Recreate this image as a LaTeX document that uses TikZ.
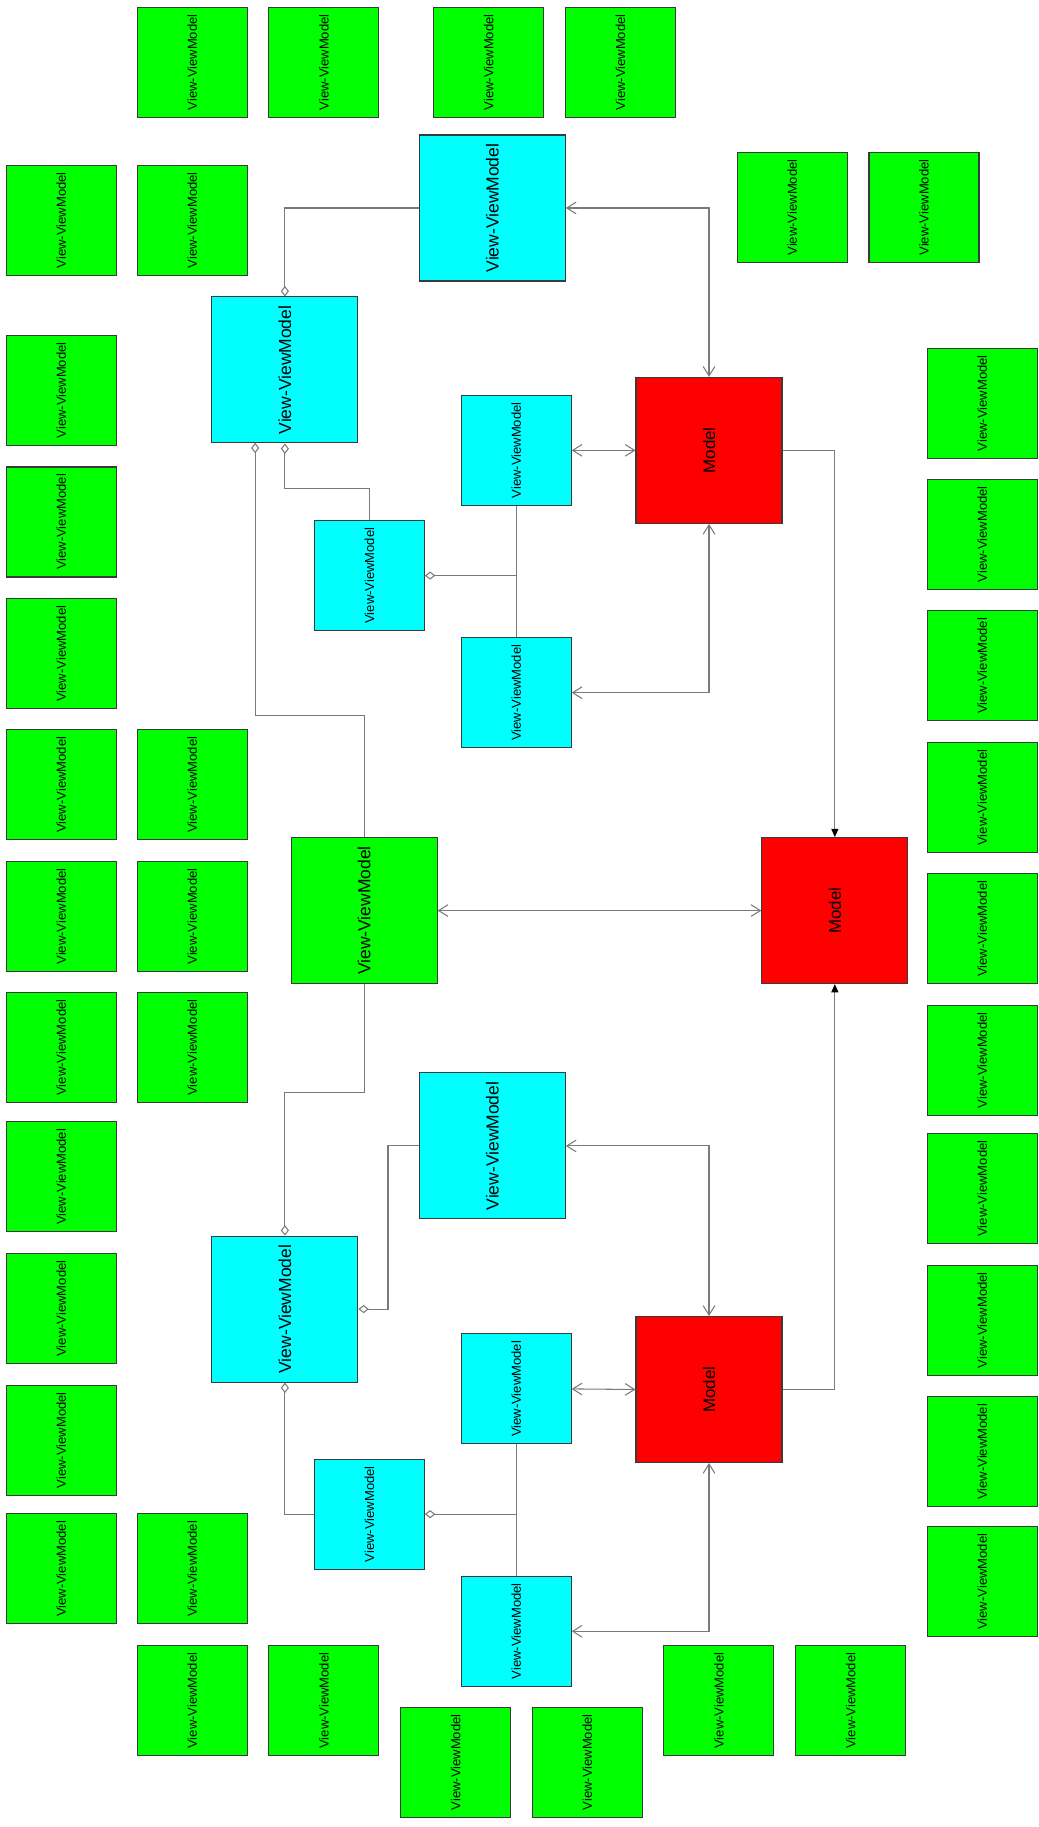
\documentclass[tikz,border=0pt]{standalone}
\usepackage{fontspec}
\setmainfont{Liberation Sans}
\usetikzlibrary{arrows.meta}
\definecolor{gfill}{HTML}{00FF00}
\definecolor{cfill}{HTML}{00FFFF}
\definecolor{rfill}{HTML}{FF0000}
\definecolor{bordc}{HTML}{3A3A3A}
\definecolor{linec}{HTML}{7A7A7A}
\newcommand\vtext[1]{\rotatebox{90}{#1}}
\tikzset{
  boxbase/.style={draw=bordc, line width=0.9pt, inner sep=0pt, align=center},
  sbox/.style={boxbase, minimum width=94.4pt, minimum height=94.4pt, font=\fontsize{11.2}{13}\selectfont},
  bbox/.style={boxbase, minimum width=125.3pt, minimum height=125.3pt, font=\fontsize{15}{17}\selectfont},
  gsm/.style={sbox, fill=gfill},
  csm/.style={sbox, fill=cfill},
  cbig/.style={bbox, fill=cfill},
  gbig/.style={bbox, fill=gfill},
  model/.style={bbox, fill=rfill, font=\fontsize{14.5}{17}\selectfont},
  conn/.style={draw=linec, line width=0.9pt},
  nav/.style={conn, {Straight Barb[length=8pt,width=10pt,line width=0.9pt]}-{Straight Barb[length=8pt,width=10pt,line width=0.9pt]}},
  agg/.style={conn, {Diamond[open,length=9pt,width=7pt,fill=white,line width=0.9pt]}-},
  dep/.style={conn, -{Triangle[length=7pt,width=6pt,fill=black,color=black]}}
}
\begin{document}
\begin{tikzpicture}[x=1pt,y=-1pt]
\useasboundingbox[fill=white] (0,0) rectangle (891,1568);

% ---------- green filler boxes ----------
\foreach \nm/\xx/\yy in {t1/165/53.5, t2/278/53.5, t3/419.5/53.5, t4/532.5/53.5,
  rt1/680/178, rt2/793/178,
  a1/52.5/189, a2/52.5/335, a3/52.5/448, a4/52.5/561, a5/52.5/673.5, a6/52.5/786.5,
  a7/52.5/899, a8/52.5/1010, a9/52.5/1123, a10/52.5/1236, a11/52.5/1346.5,
  b1/165/189, b2/165/673.5, b3/165/786.5, b4/165/899, b5/165/1346.5,
  r1/843/346, r2/843/458.5, r3/843/571.5, r4/843/684.5, r5/843/797,
  r6/843/910, r7/843/1020, r8/843/1133, r9/843/1246, r10/843/1357.5,
  u1/165/1459.5, u2/278/1459.5, u3/391/1512.5, u4/504/1512.5, u5/617/1459.5, u6/730/1459.5}
  \node[gsm] (\nm) at (\xx,\yy) {\vtext{View-ViewModel}};

% ---------- upper cluster ----------
\node[cbig] (ctop) at (422.5,178.5) {\vtext{View-ViewModel}};
\node[cbig] (cul)  at (244.5,317.5) {\vtext{View-ViewModel}};
\node[csm]  (s1)   at (443,386.5)   {\vtext{View-ViewModel}};
\node[csm]  (s2)   at (317,494)     {\vtext{View-ViewModel}};
\node[csm]  (s3)   at (443,594.5)   {\vtext{View-ViewModel}};
\node[model] (m1)  at (608.5,386.5) {\vtext{Model}};

% ---------- middle ----------
\node[gbig] (gmid) at (312.5,781.5) {\vtext{View-ViewModel}};
\node[model] (m2)  at (716.5,781.5) {\vtext{Model}};

% ---------- lower cluster ----------
\node[cbig] (clt)  at (422.5,983.5)  {\vtext{View-ViewModel}};
\node[cbig] (cll)  at (244.5,1123.5) {\vtext{View-ViewModel}};
\node[csm]  (s4)   at (443,1192)     {\vtext{View-ViewModel}};
\node[csm]  (s5)   at (317,1299.5)   {\vtext{View-ViewModel}};
\node[csm]  (s6)   at (443,1400)     {\vtext{View-ViewModel}};
\node[model] (m3)  at (608.5,1192.5) {\vtext{Model}};

% ---------- junction coordinates ----------
\coordinate (ja) at (317,419);
\coordinate (jb) at (219,380);
\coordinate (jc) at (312.5,614);
\coordinate (jd) at (443,494);
\coordinate (je) at (312.5,938);
\coordinate (jf) at (333,983.5);
\coordinate (jg) at (443,1299.5);

% ---------- upper connectors ----------
\draw[agg] (cul.north) |- (ctop.west);
\draw[nav] (ctop.east) -| (m1.north);
\draw[nav] (s1.east) -- (m1.west);
\draw[nav] (s3.east) -| (m1.south);
\draw[conn] (s1.south) -- (s3.north);
\draw[agg] (s2.east) -- (jd);
\draw[agg] (cul.south) |- (ja) -- (s2.north);
\draw[agg] (jb) |- (jc) -- (gmid.north);

% ---------- middle connectors ----------
\draw[dep] (m1.east) -| (m2.north);
\draw[nav] (gmid.east) -- (m2.west);
\draw[dep] (m3.east) -| (m2.south);

% ---------- lower connectors ----------
\draw[agg] (cll.north) |- (je) -- (gmid.south);
\draw[agg] (cll.east) -| (jf) -- (clt.west);
\draw[nav] (clt.east) -| (m3.north);
\draw[nav] (s4.east) -- (m3.west);
\draw[agg] (cll.south) |- (s5.west);
\draw[agg] (s5.east) -- (jg);
\draw[conn] (s4.south) -- (s6.north);
\draw[nav] (s6.east) -| (m3.south);
\end{tikzpicture}
\end{document}
